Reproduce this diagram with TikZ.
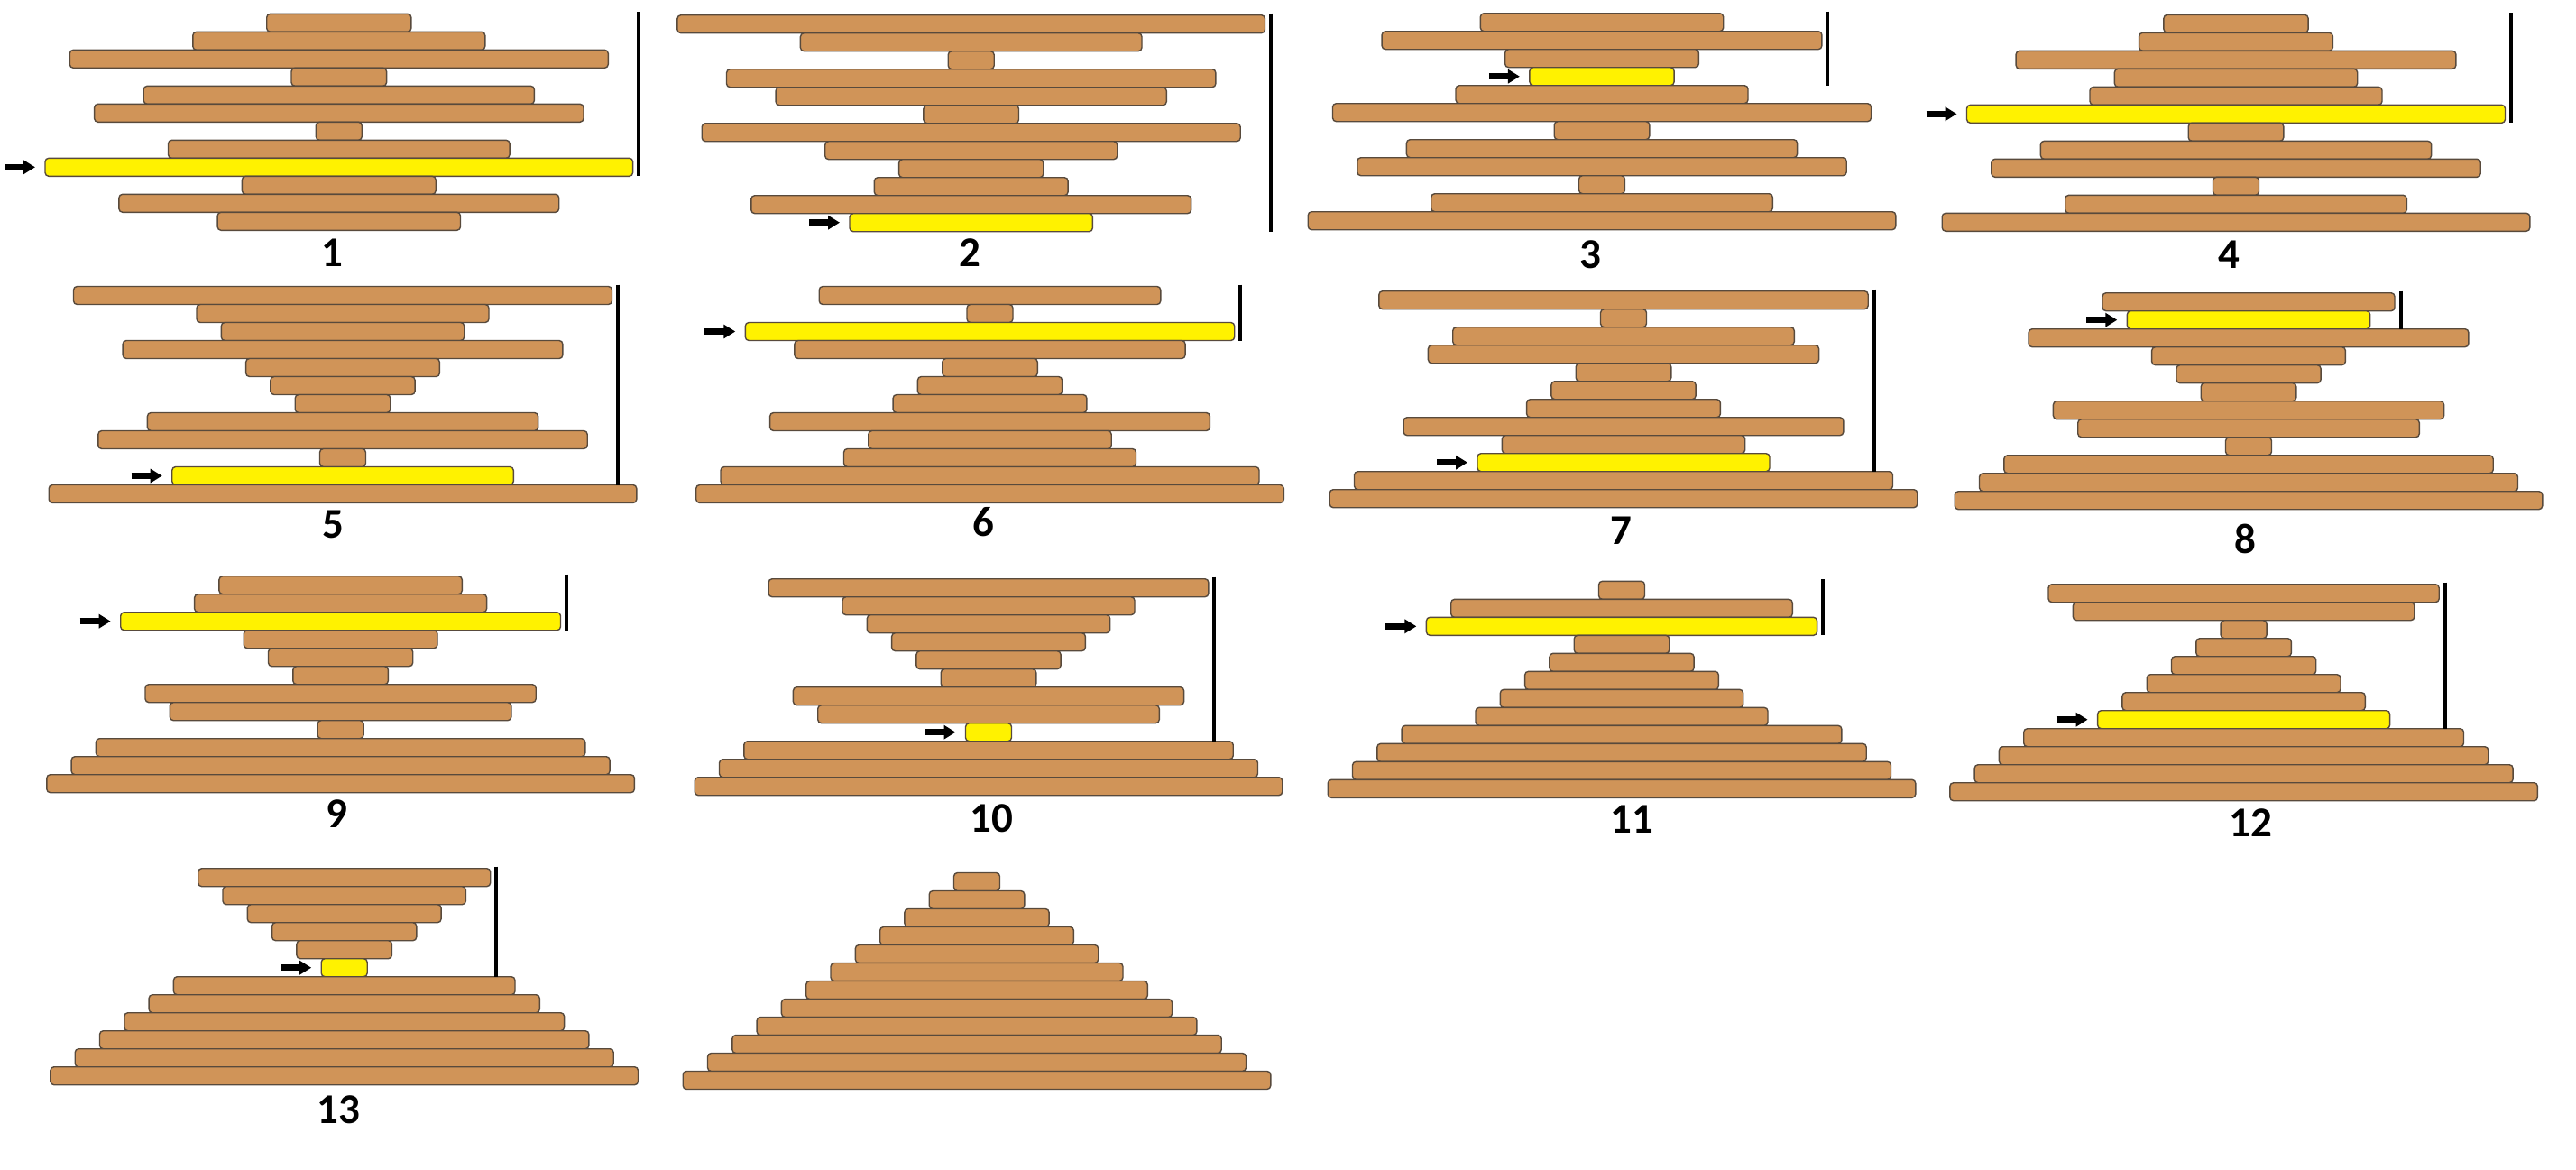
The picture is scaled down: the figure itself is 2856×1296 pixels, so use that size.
\documentclass[tikz,border=0pt]{standalone}
\usepackage{fontspec}
\setmainfont{Carlito}
\usetikzlibrary{arrows.meta}
\definecolor{cakefill}{RGB}{208,148,88}
\definecolor{cakeedge}{RGB}{88,74,60}
\definecolor{hlfill}{RGB}{255,242,0}
\tikzset{
 cake/.style={draw=cakeedge, line width=1.4pt, rounded corners=4pt, minimum height=20pt, inner sep=0pt, outer sep=0pt},
 spatula/.style={line width=4pt, black},
 pointer/.style={line width=7pt, -{Triangle[length=13pt,width=15pt]}},
 lab/.style={font=\fontsize{47}{50}\selectfont\bfseries, inner sep=0pt},
}
\newcommand\cakestack[5]{%
 \foreach \k [count=\i] in {#5} {
   \ifnum\i=#4\relax\def\cakecol{hlfill}\else\def\cakecol{cakefill}\fi
   \node[cake, fill=\cakecol, minimum width={54.6*\k-3.6}] (P#1-\i) at (#2,{#3+20*(\i-1)}) {};
 }}
\newcommand\flipinfo[7]{%
 \pgfmathsetmacro\sx{#2+(54.6*#5-3.6)/2+6.5}
 \coordinate (S#1) at (\sx,{#3-12});
 \draw[spatula] (S#1) -- (S#1 |- P#1-#4.south);
 \coordinate (A#1) at ([xshift=-45pt]P#1-#4.west);
 \draw[pointer] (A#1) -- ([xshift=-11pt]P#1-#4.west);
 \node[lab] (L#1) at (#6,#7) {#1};
}
\begin{document}
\begin{tikzpicture}[x=1pt,y=-1pt]
\fill[white] (0,0) rectangle (2856,1296);
\useasboundingbox (0,0) rectangle (2856,1296);
% panel 1
\cakestack{1}{375.8}{25.3}{9}{3,6,11,2,8,10,1,7,12,4,9,5}
\flipinfo{1}{375.8}{25.3}{9}{12}{368}{280}
% panel 2
\cakestack{2}{1076.7}{26.7}{12}{12,7,1,10,8,2,11,6,3,4,9,5}
\flipinfo{2}{1076.7}{26.7}{12}{12}{1075}{280}
% panel 3
\cakestack{3}{1776}{24.7}{4}{5,9,4,3,6,11,2,8,10,1,7,12}
\flipinfo{3}{1776}{24.7}{4}{9}{1763}{282}
% panel 4
\cakestack{4}{2479}{26.3}{6}{3,4,9,5,6,11,2,8,10,1,7,12}
\flipinfo{4}{2479}{26.3}{6}{11}{2471}{282}
% panel 5
\cakestack{5}{380}{327.5}{11}{11,6,5,9,4,3,2,8,10,1,7,12}
\flipinfo{5}{380}{327.5}{11}{11}{369}{581}
% panel 6
\cakestack{6}{1097.5}{327.5}{3}{7,1,10,8,2,3,4,9,5,6,11,12}
\flipinfo{6}{1097.5}{327.5}{3}{10}{1090}{579}
% panel 7
\cakestack{7}{1800}{332.7}{10}{10,1,7,8,2,3,4,9,5,6,11,12}
\flipinfo{7}{1800}{332.7}{10}{10}{1797}{588}
% panel 8
\cakestack{8}{2493}{334.7}{2}{6,5,9,4,3,2,8,7,1,10,11,12}
\flipinfo{8}{2493}{334.7}{2}{6}{2489}{597}
% panel 9
\cakestack{9}{377.6}{648.7}{3}{5,6,9,4,3,2,8,7,1,10,11,12}
\flipinfo{9}{377.6}{648.7}{3}{9}{373}{902}
% panel 10
\cakestack{10}{1096}{651.7}{9}{9,6,5,4,3,2,8,7,1,10,11,12}
\flipinfo{10}{1096}{651.7}{9}{9}{1099}{907}
% panel 11
\cakestack{11}{1798}{654.3}{3}{1,7,8,2,3,4,5,6,9,10,11,12}
\flipinfo{11}{1798}{654.3}{3}{8}{1809}{908}
% panel 12
\cakestack{12}{2487.6}{657.7}{8}{8,7,1,2,3,4,5,6,9,10,11,12}
\flipinfo{12}{2487.6}{657.7}{8}{8}{2495}{912}
% panel 13
\cakestack{13}{381.7}{972.7}{6}{6,5,4,3,2,1,7,8,9,10,11,12}
\flipinfo{13}{381.7}{972.7}{6}{6}{375}{1230}
% panel 14 (sorted)
\cakestack{14}{1083}{977.5}{0}{1,2,3,4,5,6,7,8,9,10,11,12}
\end{tikzpicture}
\end{document}
